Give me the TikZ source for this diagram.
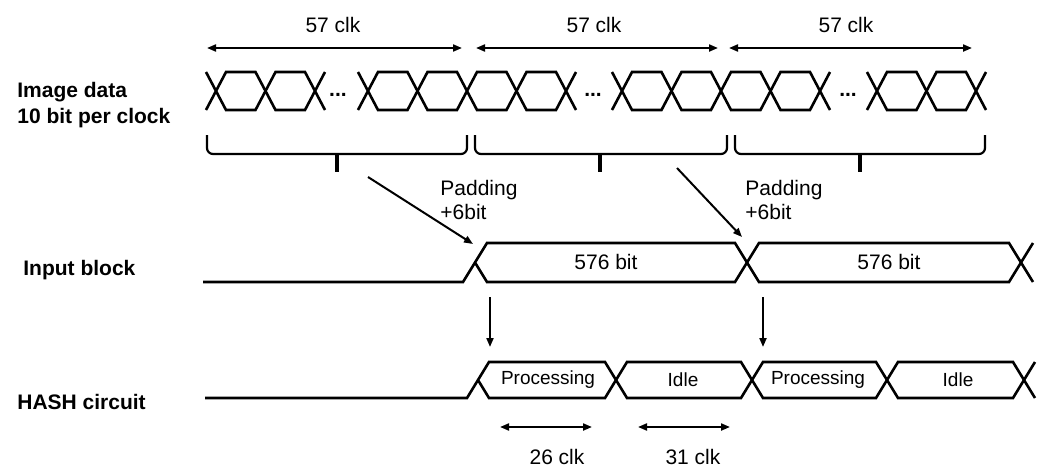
\documentclass[tikz,border=0pt]{standalone}
\usepackage{fontspec}
\setmainfont{Liberation Sans}
\usetikzlibrary{arrows.meta}

\begin{document}
\begin{tikzpicture}[x=0.5pt,y=-0.5pt,
  wave/.style={line width=1.3pt, line join=miter},
  dim/.style={{Triangle[length=4.5pt,width=3.5pt]}-{Triangle[length=4.5pt,width=3.5pt]}, line width=1pt},
  arr/.style={-{Triangle[length=4.5pt,width=3.5pt]}, line width=1pt},
  rowlabel/.style={font=\fontsize{10.5}{13}\selectfont\bfseries, anchor=west, align=left, inner sep=0pt},
  txt/.style={font=\fontsize{10.5}{12}\selectfont},
  statetxt/.style={font=\fontsize{9.5}{11}\selectfont}]
  \useasboundingbox (0,0) rectangle (1046,467);
  % row labels
  \node[rowlabel] (imglbl) at (17,105) {Image data\\10 bit per clock};
  \node[rowlabel] (inlbl) at (23,270) {Input block};
  \node[rowlabel] (hashlbl) at (17,402) {HASH circuit};
  % image data: groups of cells, start crossing / number of cells
  \foreach \s/\n in {216/2, 368/4, 622/4, 877/2} {
    \foreach \i in {1,...,\n}
      \draw[wave] ({\s+49.5*(\i-1)},91) -- ({\s+49.5*(\i-1)+10},72) -- ({\s+49.5*\i-10},72) -- ({\s+49.5*\i},91)
        -- ({\s+49.5*\i-10},110) -- ({\s+49.5*(\i-1)+10},110) -- cycle;
    \draw[wave] ({\s-10},72) -- (\s,91) -- ({\s-10},110);
    \draw[wave] ({\s+49.5*\n+10},72) -- ({\s+49.5*\n},91) -- ({\s+49.5*\n+10},110);
  }
  \node[txt, anchor=base] (dots1) at (338,96) {\textbf{...}};
  \node[txt, anchor=base] (dots2) at (593,96) {\textbf{...}};
  \node[txt, anchor=base] (dots3) at (848,96) {\textbf{...}};
  % 57 clk
  \coordinate (c1a) at (207,48); \coordinate (c1b) at (462,48);
  \coordinate (c2a) at (476,48); \coordinate (c2b) at (718,48);
  \coordinate (c3a) at (729,48); \coordinate (c3b) at (972,48);
  \draw[dim] (c1a) -- (c1b);
  \draw[dim] (c2a) -- (c2b);
  \draw[dim] (c3a) -- (c3b);
  \node[txt] (clk1) at (333,25) {57 clk};
  \node[txt] (clk2) at (594,25) {57 clk};
  \node[txt] (clk3) at (846,25) {57 clk};
  % brackets
  \foreach \l/\r/\m in {207/467/337, 475/727/600, 735/985/860} {
    \draw[line width=1.1pt, rounded corners=3pt] (\l,135) -- (\l,154) -- (\r,154) -- (\r,135);
    \draw[line width=1.6pt] (\m,154) -- (\m,172);
  }
  % input block
  \draw[wave] (203,282) -- (463,282) -- (487,243) -- (735,243) -- (747,262.5) -- (735,282) -- (487,282) -- (475,262.5);
  \draw[wave] (747,262.5) -- (759,243) -- (1009,243) -- (1021,262.5) -- (1009,282) -- (759,282) -- cycle;
  \draw[wave] (1033,243) -- (1021,262.5) -- (1033,282);
  \node[txt] (blk1) at (606,262) {576 bit};
  \node[txt] (blk2) at (889,262) {576 bit};
  % padding
  \coordinate (pad1s) at (368,177); \coordinate (pad1e) at (473,244);
  \coordinate (pad2s) at (677,168); \coordinate (pad2e) at (742,237);
  \draw[arr] (pad1s) -- (pad1e);
  \draw[arr] (pad2s) -- (pad2e);
  \node[txt, anchor=west, align=left, inner sep=0pt] (padlbl1) at (440,200) {Padding\\+6bit};
  \node[txt, anchor=west, align=left, inner sep=0pt] (padlbl2) at (745,200) {Padding\\+6bit};
  % start of hashing
  \coordinate (go1s) at (490,297); \coordinate (go1e) at (490,347);
  \coordinate (go2s) at (763,297); \coordinate (go2e) at (763,347);
  \draw[arr] (go1s) -- (go1e);
  \draw[arr] (go2s) -- (go2e);
  % hash circuit
  \draw[wave] (205,398) -- (467,398) -- (489,362) -- (605,362) -- (616,380) -- (605,398) -- (489,398) -- (478,380);
  \draw[wave] (616,380) -- (627,362) -- (741,362) -- (752,380) -- (741,398) -- (627,398) -- cycle;
  \draw[wave] (752,380) -- (763,362) -- (876,362) -- (887,380) -- (876,398) -- (763,398) -- cycle;
  \draw[wave] (887,380) -- (898,362) -- (1013,362) -- (1024,380) -- (1013,398) -- (898,398) -- cycle;
  \draw[wave] (1035,362) -- (1024,380) -- (1035,398);
  \node[statetxt] (proc1) at (548,380) {Processing};
  \node[statetxt] (idle1) at (683,380) {Idle};
  \node[statetxt] (proc2) at (818,380) {Processing};
  \node[statetxt] (idle2) at (958,380) {Idle};
  % clocks per state
  \coordinate (p1a) at (500,427); \coordinate (p1b) at (592,427);
  \coordinate (i1a) at (638,427); \coordinate (i1b) at (730,427);
  \draw[dim] (p1a) -- (p1b);
  \draw[dim] (i1a) -- (i1b);
  \node[txt] (clkp) at (557,457) {26 clk};
  \node[txt] (clki) at (693,457) {31 clk};
\end{tikzpicture}
\end{document}
